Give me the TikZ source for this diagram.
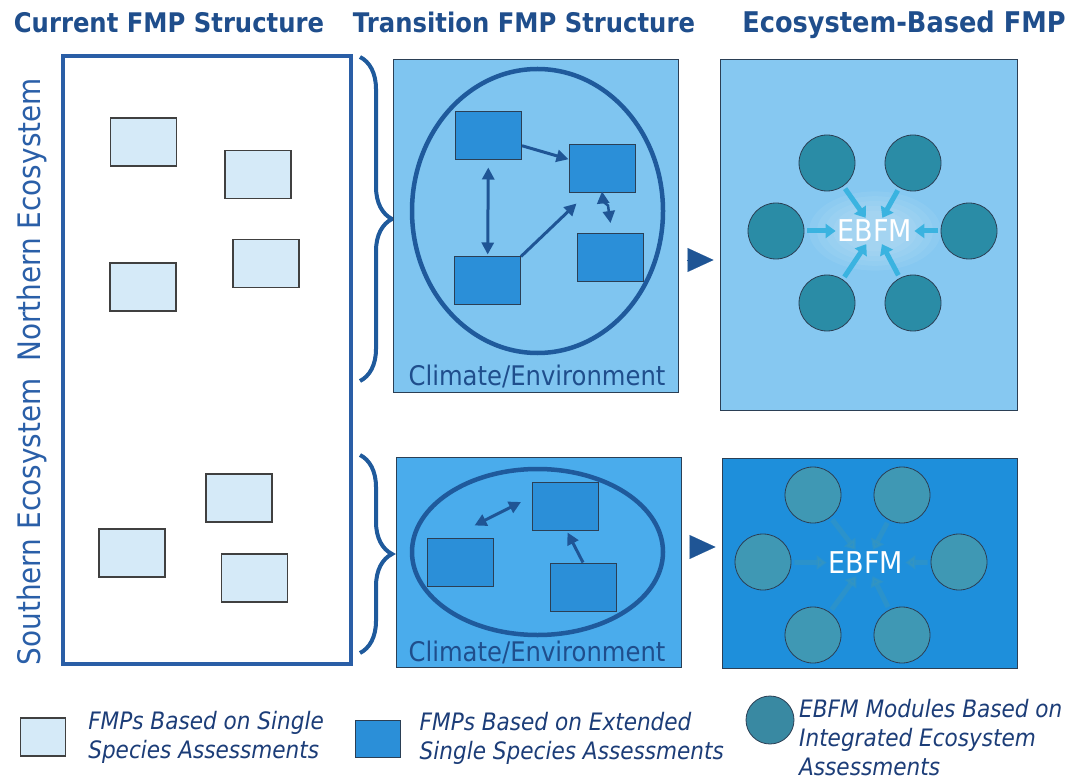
\documentclass[tikz,border=0pt]{standalone}
\usepackage{fontspec}
\setmainfont{DejaVu Sans}[FakeStretch=0.9]
\usetikzlibrary{positioning, arrows.meta, shapes.geometric, decorations.pathreplacing}

\definecolor{navy}{HTML}{1F4E8C}
\definecolor{regionblue}{HTML}{2A5FA8}
\definecolor{frameblue}{HTML}{2A5EA6}
\definecolor{paleblue}{HTML}{D5EAF8}
\definecolor{mtopfill}{HTML}{7FC5F0}
\definecolor{mbotfill}{HTML}{4AACEC}
\definecolor{rtopfill}{HTML}{86C8F1}
\definecolor{rbotfill}{HTML}{1E8FDB}
\definecolor{fmpblue}{HTML}{2B8FD8}
\definecolor{ringblue}{HTML}{1F5A9C}
\definecolor{linkblue}{HTML}{1F5595}
\definecolor{moduleteal}{HTML}{2A8CA6}
\definecolor{modulegrey}{HTML}{3F98B4}
\definecolor{feedcyan}{HTML}{3AB3E0}
\definecolor{legendnavy}{HTML}{1C3D78}
\definecolor{edgegrey}{HTML}{2B3F55}

\begin{document}
\begin{tikzpicture}[
		x=1pt, y=-1pt,
		>={Triangle[length=12pt, width=12pt]},
		heading/.style={font=\bfseries\fontsize{27}{32}\selectfont, text=navy, inner sep=0pt, anchor=base},
		region/.style={font=\fontsize{31}{36}\selectfont, text=regionblue, rotate=90, inner sep=0pt},
		oldfmp/.style={draw=black!75, line width=1.2pt, fill=paleblue, minimum width=66pt, minimum height=48pt, inner sep=0pt},
		newfmp/.style={draw=edgegrey, line width=1pt, fill=fmpblue, minimum width=66pt, minimum height=48pt, inner sep=0pt},
		module/.style={circle, draw=edgegrey, line width=0.8pt, fill=moduleteal, minimum size=56pt, inner sep=0pt},
		panel/.style={draw=edgegrey, line width=1pt, inner sep=0pt},
		env/.style={ellipse, draw=ringblue, line width=4.5pt, inner sep=0pt},
		climate/.style={font=\fontsize{27}{32}\selectfont, text=navy, inner sep=0pt, anchor=base},
		link/.style={line width=3pt, draw=linkblue},
		feed/.style={-{Triangle[length=10pt, width=14pt]}, line width=5pt, draw=feedcyan, shorten <=3pt},
		hub/.style={font=\fontsize{30}{36}\selectfont, text=white, inner sep=2pt},
		legend/.style={font=\itshape\fontsize{24}{29}\selectfont, text=legendnavy, align=left, anchor=west, inner sep=0pt},
		brace/.style={decorate, decoration={brace, amplitude=32pt}, line width=4pt, draw=ringblue},
		onward/.style={-{Triangle[length=26pt, width=24pt]}, line width=0.1pt, draw=linkblue, shorten <=8pt, shorten >=6pt},
	]
	\useasboundingbox[fill=white] (0,0) rectangle (1086,783);

	% column headings
	\node[heading] (hcur) at (169,33) {Current FMP Structure};
	\node[heading] (htra) at (524,33) {Transition FMP Structure};
	\node[heading, font=\bfseries\fontsize{28.5}{32}\selectfont] (heco) at (904,33) {Ecosystem-Based FMP};

	% current structure
	\node[draw=frameblue, line width=4pt, minimum width=288pt, minimum height=608pt] (cur) at (207,360) {};
	\node[region] (north) at (32,220) {Northern Ecosystem};
	\node[region] (south) at (32,522) {Southern Ecosystem};
	\foreach \n/\cx/\cy in {1/143.5/142, 2/258/174.5, 3/266/263.5, 4/143/287, 5/239/498, 6/132/553, 7/254.5/578}
		\node[oldfmp] (old\n) at (\cx,\cy) {};

	\draw[brace] (360,57) -- (360,381);
	\draw[brace] (360,455) -- (360,653);

	% transition, northern
	\node[panel, fill=mtopfill, minimum width=285pt, minimum height=332pt] (mtop) at (535.5,226) {};
	\node[env, minimum width=251pt, minimum height=284pt] (envtop) at (537.5,211) {};
	\node[newfmp] (a) at (488.5,136) {};
	\node[newfmp] (b) at (602,169) {};
	\node[newfmp] (c) at (487.5,281) {};
	\node[newfmp] (d) at (610.5,257.5) {};
	\draw[link, ->] (a) -- (b);
	\draw[link, <->, shorten <=7pt, shorten >=2pt] (a) -- (c);
	\draw[link, ->] (c.north east) -- ([shift={(8,10)}]b.south west);
	\draw[link, <->, line width=2.5pt] ([yshift=2pt]b.south) -- ++(1,10) -- ++(5,4) -- ([shift={(0,-10)}]d.north);
	\node[climate] (cltop) at (537,385) {Climate/Environment};

	% transition, southern
	\node[panel, fill=mbotfill, minimum width=285pt, minimum height=210pt] (mbot) at (538.5,562) {};
	\node[env, minimum width=251pt, minimum height=166pt] (envbot) at (537.5,552) {};
	\node[newfmp] (e) at (565.5,506) {};
	\node[newfmp] (f) at (460.5,562) {};
	\node[newfmp] (g) at (583,587) {};
	\draw[link, <->] ([shift={(14,-12)}]f.north) -- ([shift={(-11,-4)}]e.west);
	\draw[link, ->] (g.north) -- ([shift={(2,2)}]e.south);
	\node[climate] (clbot) at (537,661) {Climate/Environment};

	% ecosystem-based, northern
	\node[panel, fill=rtopfill, minimum width=297pt, minimum height=350pt] (rtop) at (868.5,235) {};
	\foreach \r in {66,58,50,42,34}
		\fill[white, opacity=0.06] (875,231) ellipse ({\r} and {\r*0.6});
	\node[hub] (hubtop) at (875,231) {EBFM};
	\foreach \n/\cx/\cy in {1/827/163, 2/913/163, 3/776/231, 4/969/231, 5/827/303, 6/913/303}
		\node[module] (nt\n) at (\cx,\cy) {};
	\foreach \n in {1,...,6}
		\draw[feed] (nt\n) -- (hubtop);

	% ecosystem-based, southern
	\node[panel, fill=rbotfill, minimum width=295pt, minimum height=210pt] (rbot) at (869.5,563) {};
	\node[hub] (hubbot) at (866,563) {EBFM};
	\foreach \n/\cx/\cy in {1/813/495, 2/902/495, 3/763/562, 4/959/562, 5/813/635, 6/902/635}
		\node[module, fill=modulegrey] (nb\n) at (\cx,\cy) {};
	\foreach \n in {1,...,6}
		\draw[feed, draw=modulegrey, opacity=0.4] (nb\n) -- (hubbot);

	\draw[onward] (mtop.east |- 0,260) -- (rtop.west |- 0,260);
	\draw[onward] (mbot.east |- 0,547) -- (rbot.west |- 0,547);

	% legend
	\node[oldfmp, minimum width=45pt, minimum height=38pt] (keyold) at (43,737) {};
	\node[legend, right=22pt of keyold] (keyoldtxt) {FMPs Based on Single\\Species Assessments};
	\node[newfmp, fill=fmpblue, minimum width=45pt, minimum height=37pt] (keynew) at (377.5,738.5) {};
	\node[legend, right=19pt of keynew] (keynewtxt) {FMPs Based on Extended\\Single Species Assessments};
	\node[module, fill=modulegrey!90!black, minimum size=48pt] (keymod) at (770,720) {};
	\node[legend] (keymodtxt) at (799,738) {EBFM Modules Based on\\Integrated Ecosystem\\Assessments};
\end{tikzpicture}
\end{document}
